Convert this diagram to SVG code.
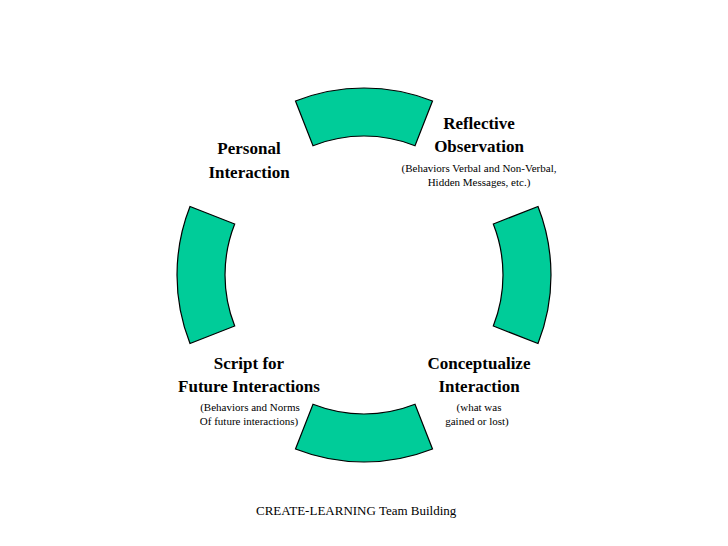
<svg xmlns="http://www.w3.org/2000/svg" width="728" height="546" viewBox="0 0 728 546">
<style>
.seg{fill:#00CC99;stroke:#000;stroke-width:1.2}
.t{font-family:"Liberation Serif",serif;font-weight:bold;font-size:17px;text-anchor:middle}
.s{font-family:"Liberation Serif",serif;font-size:11px;text-anchor:middle}
</style>
<rect width="728" height="546" fill="#fff"/>
<g id="ring" transform="translate(364,275)">
<path id="seg-top" class="seg" d="M-68.5,-174 A187,187 0 0 1 68.5,-174 L51,-129.3 A139,139 0 0 0 -51,-129.3 Z"/>
<path id="seg-right" class="seg" transform="rotate(90)" d="M-68.5,-174 A187,187 0 0 1 68.5,-174 L51,-129.3 A139,139 0 0 0 -51,-129.3 Z"/>
<path id="seg-bottom" class="seg" transform="rotate(180)" d="M-68.5,-174 A187,187 0 0 1 68.5,-174 L51,-129.3 A139,139 0 0 0 -51,-129.3 Z"/>
<path id="seg-left" class="seg" transform="rotate(270)" d="M-68.5,-174 A187,187 0 0 1 68.5,-174 L51,-129.3 A139,139 0 0 0 -51,-129.3 Z"/>
</g>
<g id="personal"><text class="t" x="249" y="154">Personal</text><text class="t" x="249" y="178">Interaction</text></g>
<g id="reflective"><text class="t" x="479" y="129">Reflective</text><text class="t" x="479" y="152">Observation</text>
<text class="s" x="479" y="172">(Behaviors Verbal and Non-Verbal,</text><text class="s" x="479" y="186">Hidden Messages, etc.)</text></g>
<g id="conceptualize"><text class="t" x="479" y="369">Conceptualize</text><text class="t" x="479" y="392">Interaction</text>
<text class="s" x="479" y="411">(what  was</text><text class="s" x="477" y="425">gained or lost)</text></g>
<g id="script"><text class="t" x="249" y="369">Script for</text><text class="t" x="249" y="392">Future Interactions</text>
<text class="s" x="250" y="411">(Behaviors and Norms</text><text class="s" x="249" y="425">Of future interactions)</text></g>
<g id="footer"><text style="font-family:'Liberation Serif',serif;font-size:13px" x="256" y="515">CREATE-LEARNING Team Building</text></g>
</svg>
